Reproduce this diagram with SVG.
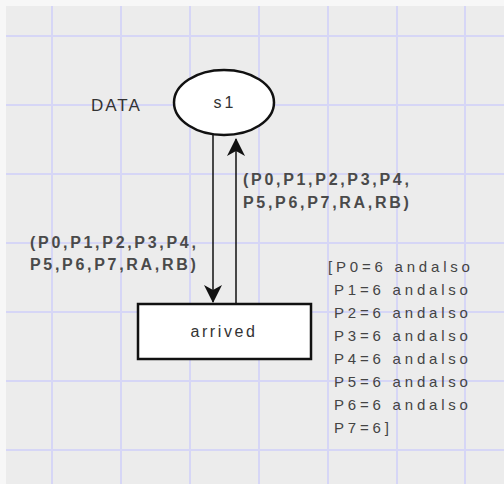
<svg xmlns="http://www.w3.org/2000/svg" width="504" height="484" viewBox="0 0 504 484">
<style>
.grid{stroke:#d6d6f6;stroke-width:2;fill:none}
.node{fill:#ffffff;stroke:#111111;stroke-width:2.5}
.arc{stroke:#111111;stroke-width:1.5;fill:none}
.t{font-family:"Liberation Sans",Arial,sans-serif;fill:#333333}
.lbl{font-size:16px;letter-spacing:2.7px;font-weight:bold;fill:#4a4a4a}
.grd{font-size:15px;letter-spacing:3.8px;fill:#444444}
</style>
<defs>
<marker id="ah" markerWidth="18" markerHeight="20" refX="17" refY="9" orient="auto" markerUnits="userSpaceOnUse">
<path d="M0,0 L18,9 L0,18 L5,9 Z" fill="#111111"/>
</marker>
</defs>
<rect x="0" y="0" width="504" height="484" fill="#f7f7f7"/>
<rect x="6" y="6" width="498" height="478" fill="#ececec"/>
<g id="grid">
<path class="grid" d="M52,6V484M121,6V484M190,6V484M259,6V484M328,6V484M397,6V484M465,6V484"/>
<path class="grid" d="M6,36H504M6,105H504M6,174H504M6,243H504M6,312H504M6,381H504M6,450H504"/>
</g>
<g id="connectors">
<g id="arc-in">
<line class="arc" x1="213" y1="134" x2="213" y2="302" marker-end="url(#ah)"/>
<text class="t lbl" x="30" y="248">(P0,P1,P2,P3,P4,</text>
<text class="t lbl" x="30" y="270">P5,P6,P7,RA,RB)</text>
</g>
<g id="arc-out">
<line class="arc" x1="236" y1="303" x2="236" y2="139" marker-end="url(#ah)"/>
<text class="t lbl" x="243" y="185">(P0,P1,P2,P3,P4,</text>
<text class="t lbl" x="243" y="208">P5,P6,P7,RA,RB)</text>
</g>
</g>
<g id="s1">
<ellipse class="node" cx="224" cy="102.5" rx="50" ry="32.5"/>
<text class="t" x="225" y="108" font-size="16" letter-spacing="3" text-anchor="middle">s1</text>
<text class="t" x="91" y="111" font-size="17" letter-spacing="2">DATA</text>
</g>
<g id="arrived">
<rect class="node" x="138" y="304" width="173" height="55" stroke-width="3"/>
<text class="t" x="224" y="337" font-size="16" letter-spacing="2.6" text-anchor="middle">arrived</text>
<g id="guard">
<text class="t grd" x="328" y="272">[P0=6 andalso</text>
<text class="t grd" x="334" y="295">P1=6 andalso</text>
<text class="t grd" x="334" y="318">P2=6 andalso</text>
<text class="t grd" x="334" y="341">P3=6 andalso</text>
<text class="t grd" x="334" y="364">P4=6 andalso</text>
<text class="t grd" x="334" y="387">P5=6 andalso</text>
<text class="t grd" x="334" y="410">P6=6 andalso</text>
<text class="t grd" x="334" y="433">P7=6]</text>
</g>
</g>
</svg>
